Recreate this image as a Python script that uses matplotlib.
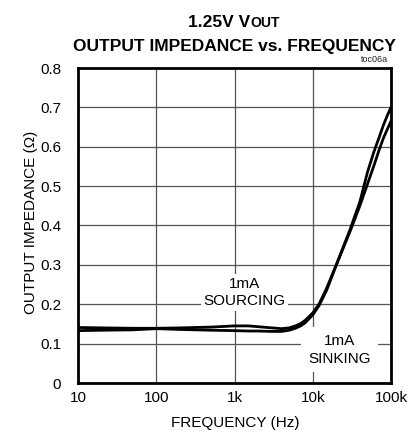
"""
Output impedance vs. frequency at 1.25V VOUT (toc06a)
"""
import matplotlib
matplotlib.use("Agg")
import matplotlib.pyplot as plt

# Data
sourcing_freq = [10, 20, 50, 100, 200, 500, 1000, 1500, 2000, 3000, 4000, 5000,
                 6000, 7000, 8000, 10000, 12000, 15000, 20000, 30000, 40000,
                 50000, 60000, 70000, 80000, 90000, 100000]
sourcing_z = [0.141, 0.140, 0.139, 0.139, 0.140, 0.142, 0.145, 0.145, 0.143,
              0.140, 0.138, 0.140, 0.145, 0.151, 0.159, 0.178, 0.200, 0.240,
              0.300, 0.390, 0.460, 0.535, 0.585, 0.622, 0.655, 0.680, 0.700]

sinking_freq = [10, 20, 50, 100, 200, 500, 1000, 1500, 2000, 3000, 4000, 5000,
                6000, 7000, 8000, 10000, 12000, 15000, 20000, 30000, 40000,
                50000, 60000, 70000, 80000, 90000, 100000]
sinking_z = [0.133, 0.134, 0.135, 0.138, 0.136, 0.134, 0.133, 0.132, 0.132,
             0.131, 0.131, 0.134, 0.139, 0.145, 0.153, 0.173, 0.196, 0.235,
             0.300, 0.385, 0.450, 0.505, 0.550, 0.590, 0.622, 0.645, 0.665]

x_ticks = [10, 100, 1000, 10000, 100000]
x_tick_labels = ['10', '100', '1k', '10k', '100k']
y_ticks = [0, 0.1, 0.2, 0.3, 0.4, 0.5, 0.6, 0.7, 0.8]
y_tick_labels = ['0', '0.1', '0.2', '0.3', '0.4', '0.5', '0.6', '0.7', '0.8']

FONT = ['Liberation Sans', 'DejaVu Sans']
W, H = 408, 440
LABEL_SIZE = 11


def draw_title(fig):
    """Two-line bold title, with a small-caps style 'OUT'"""
    r = fig.canvas.get_renderer()
    y1 = 1 - 27 / H
    t1 = fig.text(0, y1, '1.25V V', family=FONT, fontsize=12.5,
                  fontweight='bold', va='baseline')
    t2 = fig.text(0, y1, 'OUT', family=FONT, fontsize=10,
                  fontweight='bold', va='baseline')
    w1 = t1.get_window_extent(r).width
    w2 = t2.get_window_extent(r).width
    x0 = (234 - (w1 + w2) / 2) / W
    t1.set_x(x0)
    t2.set_x(x0 + w1 / W)
    fig.text(234 / W, 1 - 51 / H, 'OUTPUT IMPEDANCE vs. FREQUENCY', family=FONT,
             fontsize=12.5, fontweight='bold', ha='center', va='baseline')
    fig.text(388 / W, 1 - 60 / H, 'toc06a', family=FONT, fontsize=6.5,
             ha='right', va='center', color='#222222')


def plot_impedance(save_path='out.png'):
    fig = plt.figure(figsize=(W / 100, H / 100), dpi=100)
    ax = fig.add_axes([78 / W, 1 - 383 / H, 313 / W, 315 / H])

    ax.set_xscale('log')
    ax.set_xlim(10, 100000)
    ax.set_ylim(0, 0.8)

    ax.grid(True, which='major', color='#555555', linewidth=0.9)
    ax.set_axisbelow(True)

    ax.plot(sourcing_freq, sourcing_z, color='black', linewidth=2.0, zorder=3)
    ax.plot(sinking_freq, sinking_z, color='black', linewidth=2.0, zorder=3)

    ax.text(1350, 0.230, '1mA\nSOURCING', family=FONT, fontsize=LABEL_SIZE,
            ha='center', va='center', linespacing=1.3, zorder=2,
            bbox=dict(facecolor='white', edgecolor='none', pad=2))
    ax.text(22000, 0.084, '1mA\nSINKING', family=FONT, fontsize=LABEL_SIZE,
            ha='center', va='center', linespacing=1.3, zorder=2,
            bbox=dict(facecolor='white', edgecolor='none', pad=5))

    ax.set_xticks(x_ticks)
    ax.set_xticklabels(x_tick_labels)
    ax.xaxis.set_minor_locator(matplotlib.ticker.NullLocator())
    ax.set_yticks(y_ticks)
    ax.set_yticklabels(y_tick_labels)
    ax.tick_params(length=0)
    ax.tick_params(axis='x', pad=6)
    ax.tick_params(axis='y', pad=12)
    for lab in ax.get_xticklabels() + ax.get_yticklabels():
        lab.set_family(FONT)
        lab.set_fontsize(LABEL_SIZE)

    for sp in ax.spines.values():
        sp.set_linewidth(2.0)
        sp.set_zorder(4)

    fig.text(235 / W, 1 - 423 / H, 'FREQUENCY (Hz)', family=FONT,
             fontsize=LABEL_SIZE, ha='center', va='center')
    fig.text(31 / W, 1 - 222 / H, 'OUTPUT IMPEDANCE (\u03a9)', family=FONT,
             fontsize=LABEL_SIZE, rotation=90, ha='center', va='center')

    draw_title(fig)

    fig.savefig(save_path, dpi=100)
    return fig


if __name__ == "__main__":
    plot_impedance()
